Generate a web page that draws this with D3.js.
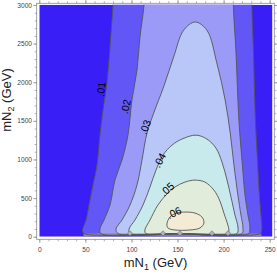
<!DOCTYPE html>
<html><head><meta charset="utf-8">
<script src="https://cdn.jsdelivr.net/npm/d3@7"></script>
<style>body{margin:0;background:#fff}svg{display:block}</style>
</head><body><svg id="c" width="277" height="275"></svg>
<script>
// ---- data (mN1 GeV, mN2 GeV) ----
const xTicks=[0,50,100,150,200,250];
const yTicks=[0,500,1000,1500,2000,2500,3000];
const levelLabels=[".01",".02",".03",".04",".05",".06"];
const contour01=[[48.5,41],[46.9,74],[47.4,113],[50.7,216],[53.9,410],[58.2,669],[62.6,927],[65.8,1315],[69.1,1638],[73.5,2000],[77.8,2634],[79.9,2996],[80.6,3300],[231.2,3300],[230.7,2996],[232.3,2414],[234.5,1509],[236.7,992],[238.8,539],[240.5,281],[241.5,138],[241.2,75],[240,41],[150,39]];
const contour02=[[66.9,41],[65.8,100],[70.2,216],[76.7,410],[82.1,733],[89.7,992],[96.2,1315],[100.5,1768],[106,2156],[109.2,2582],[113.6,2996],[114.6,3300],[211,3300],[210.6,2996],[213.3,2414],[216.6,1509],[219.9,992],[223.2,539],[226.4,281],[228.5,138],[228.2,75],[227.4,41],[150,39]];
const contour03=[[85.4,41],[83.2,100],[89.7,216],[98.4,410],[106,669],[111.4,992],[116.8,1341],[124.1,1600],[134.9,1940],[145.8,2328],[156.6,2673],[169.2,2780],[181.9,2673],[192.7,2246],[201.7,1768],[207.2,1341],[211.2,927],[215.5,539],[218.8,281],[220.9,125],[219.9,41],[150,39]];
const contour04=[[98.4,41],[97.4,100],[103.8,216],[112.5,410],[120.1,643],[126.6,862],[134.2,1056],[144,1186],[154.8,1264],[170,1315],[181.9,1264],[191.7,1147],[198.2,966],[203.7,733],[208,513],[212.3,281],[215.5,125],[214.4,41],[150,39]];
const contour05=[[115.7,41],[114.6,87],[120.1,216],[128.7,410],[137.4,539],[147.2,643],[158,707],[168.9,733],[179.7,707],[189.5,603],[196,462],[200.3,306],[204.6,151],[205.7,87],[204.6,41],[152,39]];
const contour06=[[138.5,164],[141.8,255],[149.3,306],[159.1,319],[168.9,306],[176.5,255],[178.6,177],[174.3,113],[163.4,87],[147.2,87],[139.6,113]];
const diamondX=[98.4,134.2,152.6,187.3,204.7];
const diamondY=[44,44,44,44,44];
const labelX=[66.9,93.5,114.6,130.4,138.5,146.1];
const labelY=[1910,1684,1419,992,617,313];
const labelAngle=[-82,-78,-70,-62,-42,-25];
const bandX=[48,241];
const bandY=[0,41];
const xFull=[0,253];
const yFull=[0,3003];

// ---- styles ----
const fills=["#3a1ef6","#6257f6","#9c9af7","#b9c6f8","#c9eaec","#e1ecda","#f3ebd6"];
const contours=[contour01,contour02,contour03,contour04,contour05,contour06];

const svg=d3.select("#c");
const x=d3.scaleLinear().domain([0,250]).range([39.3,269.7]);
const y=d3.scaleLinear().domain([0,3000]).range([236.7,5]);
const frame={l:36.7,r:274.3,t:3.3,b:239.3};

svg.append("defs").append("clipPath").attr("id","clip").append("rect")
  .attr("x",x(xFull[0])).attr("y",y(yFull[1]))
  .attr("width",x(xFull[1])-x(xFull[0])).attr("height",y(yFull[0])-y(yFull[1]));

const g=svg.append("g").attr("clip-path","url(#clip)");
g.append("rect").attr("x",x(xFull[0])).attr("y",y(yFull[1]))
  .attr("width",x(xFull[1])-x(xFull[0])).attr("height",y(yFull[0])-y(yFull[1]))
  .attr("fill",fills[0]);

const line=d3.line().x(d=>x(d[0])).y(d=>y(d[1])).curve(d3.curveCatmullRomClosed.alpha(0.5));
contours.forEach((c,i)=>{
  g.append("path").attr("d",line(c)).attr("fill",fills[i+1]);
});
g.append("rect").attr("x",x(bandX[0])).attr("y",y(bandY[1]))
  .attr("width",x(bandX[1])-x(bandX[0])).attr("height",y(bandY[0])-y(bandY[1]))
  .attr("fill","#85859f");
contours.forEach((c,i)=>{
  g.append("path").attr("d",line(c)).attr("fill","none").attr("stroke","#555").attr("stroke-width",0.9);
});
g.selectAll(".dm").data(diamondX).enter().append("rect")
  .attr("x",-1.8).attr("y",-1.8).attr("width",3.6).attr("height",3.6)
  .attr("transform",(d,i)=>`translate(${x(d)},${y(diamondY[i])}) rotate(45)`)
  .attr("fill","#b0b0c0").attr("stroke","#707080").attr("stroke-width",0.6);

g.selectAll(".lab").data(levelLabels).enter().append("text")
  .attr("transform",(d,i)=>`translate(${x(labelX[i])},${y(labelY[i])}) rotate(${labelAngle[i]})`)
  .attr("text-anchor","middle").attr("dominant-baseline","central")
  .attr("font-family","Liberation Sans, Arial, sans-serif").attr("font-size",10.5)
  .attr("fill","#000").text(d=>d);

// frame
svg.append("rect").attr("x",frame.l).attr("y",frame.t).attr("width",frame.r-frame.l).attr("height",frame.b-frame.t)
  .attr("fill","none").attr("stroke","#8c8c8c").attr("stroke-width",0.8);

const minorX=d3.range(0,251,10), minorY=d3.range(0,3001,100);
const fmt=d3.format("d");
function styleAxis(sel){
  sel.select(".domain").remove();
  sel.selectAll("line").attr("stroke","#8c8c8c").attr("stroke-width",0.7);
  sel.selectAll("text").attr("font-family","Liberation Sans, Arial, sans-serif").attr("font-size",6.6).attr("fill","#444");
}
// bottom
svg.append("g").attr("transform",`translate(0,${frame.b})`).call(d3.axisBottom(x).tickValues(minorX).tickSize(2).tickFormat("")).call(styleAxis);
svg.append("g").attr("transform",`translate(0,${frame.b})`).call(d3.axisBottom(x).tickValues(xTicks).tickSize(3.5).tickPadding(5).tickFormat(fmt)).call(styleAxis);
// top
svg.append("g").attr("transform",`translate(0,${frame.t})`).call(d3.axisTop(x).tickValues(minorX).tickSize(2).tickFormat("")).call(styleAxis);
svg.append("g").attr("transform",`translate(0,${frame.t})`).call(d3.axisTop(x).tickValues(xTicks).tickSize(3.5).tickFormat("")).call(styleAxis);
// left
svg.append("g").attr("transform",`translate(${frame.l},0)`).call(d3.axisLeft(y).tickValues(minorY).tickSize(2).tickFormat("")).call(styleAxis);
svg.append("g").attr("transform",`translate(${frame.l},0)`).call(d3.axisLeft(y).tickValues(yTicks).tickSize(3.5).tickPadding(1.2).tickFormat(fmt)).call(styleAxis);
// right
svg.append("g").attr("transform",`translate(${frame.r},0)`).call(d3.axisRight(y).tickValues(minorY).tickSize(2).tickFormat("")).call(styleAxis);
svg.append("g").attr("transform",`translate(${frame.r},0)`).call(d3.axisRight(y).tickValues(yTicks).tickSize(3.5).tickFormat("")).call(styleAxis);

// axis titles
const xl=svg.append("text").attr("x",155.5).attr("y",267).attr("text-anchor","middle")
  .attr("font-family","Liberation Sans, Arial, sans-serif").attr("font-size",13).attr("fill","#222");
xl.append("tspan").text("mN");
xl.append("tspan").attr("font-size",9).attr("dy",3).text("1");
xl.append("tspan").attr("dy",-3).text(" (GeV)");
const yl=svg.append("text").attr("transform","translate(11,100) rotate(-90)").attr("text-anchor","middle")
  .attr("font-family","Liberation Sans, Arial, sans-serif").attr("font-size",13).attr("fill","#222");
yl.append("tspan").text("mN");
yl.append("tspan").attr("font-size",9).attr("dy",3).text("2");
yl.append("tspan").attr("dy",-3).text(" (GeV)");
</script></body></html>
